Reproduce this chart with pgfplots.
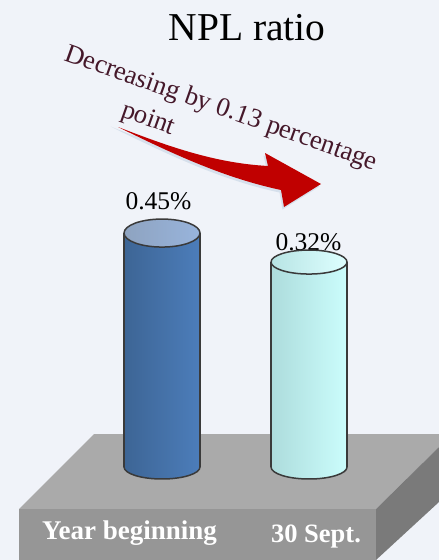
\documentclass[border=0pt]{standalone}
\usepackage{pgfplots}
\pgfplotsset{compat=1.18}
\usepackage{fontspec}
\setmainfont{Liberation Serif}
\usetikzlibrary{shapes.geometric}
\definecolor{bgcol}{HTML}{F0F3F9}
\definecolor{topface}{HTML}{AAAAAA}
\definecolor{frontface}{HTML}{969696}
\definecolor{sideface}{HTML}{7A7A7A}
\definecolor{arrowred}{HTML}{C00000}
\definecolor{arrowshadow}{HTML}{D6E0EC}
\definecolor{notecol}{HTML}{45182A}
\definecolor{outline}{HTML}{3A3A3A}
\definecolor{blueL}{HTML}{3D6595}
\definecolor{blueR}{HTML}{4C7DBA}
\definecolor{blueTopL}{HTML}{8EA3C0}
\definecolor{blueTopR}{HTML}{98B4DC}
\definecolor{cyanL}{HTML}{ADDCDC}
\definecolor{cyanR}{HTML}{CBFDFC}
\definecolor{cyanTopL}{HTML}{B8E4E4}
\definecolor{cyanTopR}{HTML}{DEFFFF}
\pgfplotsset{
  canvas/.style={scale only axis, width=439pt, height=560pt, hide axis, clip=true},
  valuescale/.style={xmin=-1.102, xmax=1.884, ymin=-1.016, ymax=1.495},
  % an elliptical cap centred on the data point: height, left colour, right colour
  disc/.style n args={3}{
    draw=none, mark=none, point meta=y,
    nodes near coords={},
    every node near coord/.append style={
      shape=ellipse, anchor=center, inner sep=0pt, outer sep=0pt,
      minimum width=76pt, minimum height=#1,
      left color=#2, right color=#3, draw=outline, line width=1.5pt},
  },
  % the value printed above a cylinder: horizontal and vertical offset
  pct/.style 2 args={
    draw=none, mark=none, point meta=y,
    nodes near coords={\pgfmathprintnumber[fixed,precision=2,zerofill,assume math mode=true]{\pgfplotspointmeta}\%},
    every node near coord/.append style={
      anchor=center, inner sep=0pt, xshift=#1, yshift=#2,
      font=\fontsize{25.5}{25.5}\selectfont, text=black},
  },
}
\begin{document}
\begin{tikzpicture}
% plinth, arrow and text, laid out on a 439 x 560 canvas
\begin{axis}[canvas, xmin=0, xmax=439, ymin=0, ymax=560, y dir=reverse]
  \addplot[draw=none, fill=bgcol] coordinates {(0,0) (439,0) (439,560) (0,560)} --cycle;
  \addplot[draw=none, fill=topface] coordinates {(19,509) (94,434) (439,434) (439,447) (376,509)} --cycle;
  \addplot[draw=none, fill=frontface] coordinates {(19,509) (376,509) (376,560) (19,560)} --cycle;
  \addplot[draw=none, fill=sideface] coordinates {(376,509) (439,447) (439,502) (376,560)} --cycle;
  % the arrow's soft edge, then the arrow
  \fill[arrowshadow, xshift=-1.5pt, yshift=-2.5pt] (axis cs:112,124) .. controls (axis cs:170,147) and (axis cs:215,163) .. (axis cs:268,166)
    -- (axis cs:265,153) -- (axis cs:321,184) -- (axis cs:284,207) -- (axis cs:281,190)
    .. controls (axis cs:225,178) and (axis cs:175,155) .. (axis cs:112,124) -- cycle;
  \fill[arrowred] (axis cs:118,127) .. controls (axis cs:170,147) and (axis cs:215,163) .. (axis cs:268,166)
    -- (axis cs:265,153) -- (axis cs:321,184) -- (axis cs:284,207) -- (axis cs:281,190)
    .. controls (axis cs:225,178) and (axis cs:175,155) .. (axis cs:118,127) -- cycle;
  \node[text=black, anchor=center] at (axis cs:247,28) {\fontsize{39.5}{39.5}\selectfont NPL ratio};
  \node[rotate=-19.5, text=notecol, anchor=center] at (axis cs:221,109) {\fontsize{26.7}{26.7}\selectfont Decreasing by 0.13 percentage};
  \node[rotate=-19.5, text=notecol, anchor=center] at (axis cs:148,120) {\fontsize{26.7}{26.7}\selectfont point};
  \node[text=white, anchor=center] at (axis cs:129.5,533) {\fontsize{27}{27}\selectfont\bfseries Year beginning};
  \node[text=white, anchor=center] at (axis cs:316,537) {\fontsize{26.5}{26.5}\selectfont\bfseries 30 Sept.};
\end{axis}
% the cylinders' bottom caps, on the value scale of the ratio
\begin{axis}[canvas, valuescale]
  \addplot[disc={24pt}{blueL}{blueR}] coordinates {(0,-0.599)};
  \addplot[disc={24pt}{cyanL}{cyanR}] coordinates {(1,-0.599)};
\end{axis}
% the cylinders' bodies, values and top caps
\begin{axis}[canvas, valuescale]
  % first cylinder, 0.45
  \addplot[draw=none, left color=blueL, right color=blueR] coordinates {(-0.2585,-0.599) (-0.2585,0.45) (0.2585,0.45) (0.2585,-0.599)} --cycle;
  \addplot[outline, line width=1.5pt, mark=none] coordinates {(-0.2585,-0.599) (-0.2585,0.45)};
  \addplot[outline, line width=1.5pt, mark=none] coordinates {(0.2585,-0.599) (0.2585,0.45)};
  \addplot[pct={-3.5pt}{32pt}] coordinates {(0,0.45)};
  \addplot[disc={28pt}{blueTopL}{blueTopR}] coordinates {(0,0.45)};
  % second cylinder, 0.32
  \addplot[draw=none, left color=cyanL, right color=cyanR] coordinates {(0.7415,-0.599) (0.7415,0.32) (1.2585,0.32) (1.2585,-0.599)} --cycle;
  \addplot[outline, line width=1.5pt, mark=none] coordinates {(0.7415,-0.599) (0.7415,0.32)};
  \addplot[outline, line width=1.5pt, mark=none] coordinates {(1.2585,-0.599) (1.2585,0.32)};
  \addplot[pct={-0.5pt}{20pt}] coordinates {(1,0.32)};
  \addplot[disc={24pt}{cyanTopL}{cyanTopR}] coordinates {(1,0.32)};
\end{axis}
\end{tikzpicture}
\end{document}
